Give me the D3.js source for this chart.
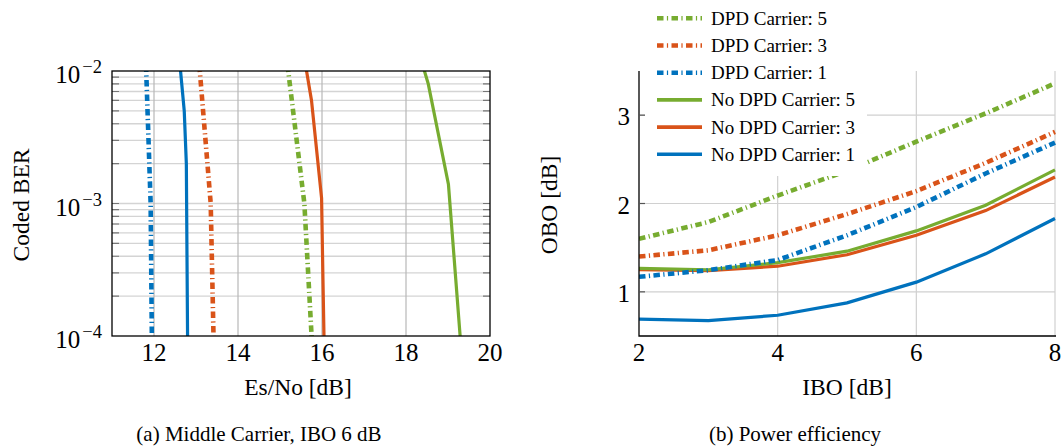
<!DOCTYPE html>
<meta charset="utf-8">
<script src="https://d3js.org/d3.v7.min.js"></script>
<body style="margin:0;background:#fff">
<script>
// (a) coded BER against Es/No, each point is [Es/No dB, BER]
var berDpd1   = [[11.81, 1.1e-2], [11.92, 1e-3], [11.95, 9e-5]];
var berDpd3   = [[13.08, 1.1e-2], [13.35, 1e-3], [13.42, 9e-5]];
var berDpd5   = [[15.18, 1.1e-2], [15.58, 1e-3], [15.76, 9e-5]];
var berNoDpd1 = [[12.62, 1.1e-2], [12.72, 5e-3], [12.77, 2e-3], [12.80, 9e-5]];
var berNoDpd3 = [[15.61, 1.1e-2], [15.75, 6e-3], [15.99, 1.1e-3], [16.02, 3e-4], [16.05, 9e-5]];
var berNoDpd5 = [[18.40, 1.1e-2], [18.53, 8e-3], [19.01, 1.4e-3], [19.30, 9e-5]];
var esnoTicks = [12, 14, 16, 18, 20];
var berTicks = [1e-4, 1e-3, 1e-2];

// (b) output back-off against input back-off
var ibo       = [2, 3, 4, 5, 6, 7, 8];
var oboNoDpd1 = [0.69, 0.675, 0.735, 0.875, 1.11, 1.43, 1.83];
var oboNoDpd3 = [1.25, 1.24, 1.29, 1.42, 1.64, 1.92, 2.30];
var oboNoDpd5 = [1.265, 1.25, 1.33, 1.46, 1.69, 1.98, 2.38];
var oboDpd1   = [1.17, 1.245, 1.36, 1.64, 1.96, 2.34, 2.69];
var oboDpd3   = [1.40, 1.47, 1.64, 1.88, 2.14, 2.46, 2.81];
var oboDpd5   = [1.60, 1.79, 2.09, 2.37, 2.70, 3.02, 3.36];
var iboTicks = [2, 4, 6, 8];
var oboTicks = [1, 2, 3];

var legendNames = ["DPD Carrier: 5", "DPD Carrier: 3", "DPD Carrier: 1",
                   "No DPD Carrier: 5", "No DPD Carrier: 3", "No DPD Carrier: 1"];

var blue = "#0072bd", orange = "#d95319", green = "#77ac30";
var dashDot = "6.5,3.4,1.2,3.4";
var font = "Liberation Serif, Times New Roman, serif";

var svg = d3.select("body").append("svg")
    .attr("width", 1063)
    .attr("height", 448)
    .attr("font-family", font);

var defs = svg.append("defs");

// ---------- left panel ----------
var L = {left: 112, right: 490, top: 71, bottom: 336};
var xa = d3.scaleLinear([11, 20], [L.left, L.right]);
var ya = d3.scaleLog([1e-4, 1e-2], [L.bottom, L.top]);

defs.append("clipPath").attr("id", "clipA")
  .append("rect").attr("x", L.left).attr("y", L.top)
  .attr("width", L.right - L.left).attr("height", L.bottom - L.top);

var ga = svg.append("g");

// minor + major horizontal grid
var minorY = [];
[1e-4, 1e-3].forEach(d => { for (var k = 2; k <= 9; k++) minorY.push(d * k); });
ga.append("g").selectAll("line").data(minorY.concat([1e-3])).join("line")
    .attr("x1", L.left).attr("x2", L.right)
    .attr("y1", d => ya(d)).attr("y2", d => ya(d))
    .attr("stroke", "#d4d4d4").attr("stroke-width", 1.3);
ga.append("g").selectAll("line").data(esnoTicks.slice(0, -1)).join("line")
    .attr("x1", d => xa(d)).attr("x2", d => xa(d))
    .attr("y1", L.top).attr("y2", L.bottom)
    .attr("stroke", "#b8b8b8").attr("stroke-width", 1.2);

// inner tick marks on left and right
ga.append("g").selectAll("path").data(minorY.concat([1e-3])).join("path")
    .attr("d", d => `M${L.left},${ya(d)}h7M${L.right},${ya(d)}h-7`)
    .attr("stroke", "#777").attr("stroke-width", 1.2);

var lineA = d3.line().x(d => xa(d[0])).y(d => ya(d[1]));
var seriesA = [
  {data: berDpd1, color: blue, dash: true},
  {data: berDpd3, color: orange, dash: true},
  {data: berDpd5, color: green, dash: true},
  {data: berNoDpd1, color: blue, dash: false},
  {data: berNoDpd3, color: orange, dash: false},
  {data: berNoDpd5, color: green, dash: false}
];
ga.append("g").attr("clip-path", "url(#clipA)")
  .selectAll("path").data(seriesA).join("path")
    .attr("d", d => lineA(d.data))
    .attr("fill", "none")
    .attr("stroke", d => d.color)
    .attr("stroke-width", d => d.dash ? 4.6 : 3.2)
    .attr("stroke-dasharray", d => d.dash ? dashDot : null);

ga.append("rect")
    .attr("x", L.left).attr("y", L.top)
    .attr("width", L.right - L.left).attr("height", L.bottom - L.top)
    .attr("fill", "none").attr("stroke", "#000").attr("stroke-width", 1.3);

ga.append("g").selectAll("text").data(esnoTicks).join("text")
    .attr("x", d => xa(d)).attr("y", 361)
    .attr("text-anchor", "middle").attr("font-size", 25)
    .text(d => d);

var yLab = ga.append("g").selectAll("text").data(berTicks).join("text")
    .attr("x", 102).attr("y", d => ya(d) + 12)
    .attr("text-anchor", "end").attr("font-size", 25);
yLab.append("tspan").text("10");
yLab.append("tspan").attr("dx", 2).attr("dy", -10).attr("font-size", 18.5)
    .text(d => "\u2212" + Math.round(-Math.log10(d)));

ga.append("text")
    .attr("x", 298).attr("y", 395)
    .attr("text-anchor", "middle").attr("font-size", 23.5)
    .text("Es/No [dB]");
ga.append("text")
    .attr("transform", "translate(29,205) rotate(-90)")
    .attr("text-anchor", "middle").attr("font-size", 23.5)
    .text("Coded BER");
ga.append("text")
    .attr("x", 259).attr("y", 441)
    .attr("text-anchor", "middle").attr("font-size", 21)
    .text("(a) Middle Carrier, IBO 6 dB");

// ---------- right panel ----------
var R = {left: 639, right: 1055, top: 71, bottom: 336};
var xb = d3.scaleLinear([2, 8], [R.left, R.right]);
var yb = d3.scaleLinear([0.5, 3.5], [R.bottom, R.top]);

defs.append("clipPath").attr("id", "clipB")
  .append("rect").attr("x", R.left).attr("y", R.top - 10)
  .attr("width", R.right - R.left + 4).attr("height", R.bottom - R.top + 10);

var gb = svg.append("g");

gb.append("g").selectAll("line").data(iboTicks.slice(1)).join("line")
    .attr("x1", d => xb(d)).attr("x2", d => xb(d))
    .attr("y1", R.top).attr("y2", R.bottom)
    .attr("stroke", "#d0d0d0").attr("stroke-width", 1.2);
gb.append("g").selectAll("line").data(oboTicks).join("line")
    .attr("x1", R.left).attr("x2", R.right)
    .attr("y1", d => yb(d)).attr("y2", d => yb(d))
    .attr("stroke", "#d0d0d0").attr("stroke-width", 1.2);

var lineB = d3.line().x((d, i) => xb(ibo[i])).y(d => yb(d));
var seriesB = [
  {data: oboNoDpd1, color: blue, dash: false},
  {data: oboNoDpd3, color: orange, dash: false},
  {data: oboNoDpd5, color: green, dash: false},
  {data: oboDpd1, color: blue, dash: true},
  {data: oboDpd3, color: orange, dash: true},
  {data: oboDpd5, color: green, dash: true}
];
gb.append("g").attr("clip-path", "url(#clipB)")
  .selectAll("path").data(seriesB).join("path")
    .attr("d", d => lineB(d.data))
    .attr("fill", "none")
    .attr("stroke", d => d.color)
    .attr("stroke-width", d => d.dash ? 4.6 : 3.2)
    .attr("stroke-dasharray", d => d.dash ? dashDot : null);

// legend, white box over the plot
var legendItems = [
  {color: green, dash: true}, {color: orange, dash: true}, {color: blue, dash: true},
  {color: green, dash: false}, {color: orange, dash: false}, {color: blue, dash: false}
];
gb.append("rect")
    .attr("x", 645).attr("y", 0).attr("width", 222).attr("height", 176)
    .attr("fill", "#fff");
var leg = gb.append("g").selectAll("g").data(legendItems).join("g")
    .attr("transform", (d, i) => `translate(657,${18.3 + i * 27.2})`);
leg.append("line")
    .attr("x1", 0).attr("x2", 45)
    .attr("stroke", d => d.color)
    .attr("stroke-width", d => d.dash ? 4.6 : 3.6)
    .attr("stroke-dasharray", d => d.dash ? dashDot : null);
leg.append("text")
    .attr("x", 54).attr("y", 6.5)
    .attr("font-size", 19)
    .text((d, i) => legendNames[i]);

// axis lines
gb.append("path")
    .attr("d", `M${R.left},${R.top}V${R.bottom}H${R.right + 1}`)
    .attr("fill", "none").attr("stroke", "#000").attr("stroke-width", 1.3);
gb.append("g").selectAll("path").data(oboTicks).join("path")
    .attr("d", d => `M${R.left},${yb(d)}h6`)
    .attr("stroke", "#555").attr("stroke-width", 1.2);

gb.append("g").selectAll("text").data(iboTicks).join("text")
    .attr("x", d => xb(d)).attr("y", 361)
    .attr("text-anchor", "middle").attr("font-size", 25)
    .text(d => d);
gb.append("g").selectAll("text").data(oboTicks).join("text")
    .attr("x", 630).attr("y", d => yb(d) + 10)
    .attr("text-anchor", "end").attr("font-size", 25)
    .text(d => d);

gb.append("text")
    .attr("x", 847).attr("y", 395)
    .attr("text-anchor", "middle").attr("font-size", 23.5)
    .text("IBO [dB]");
gb.append("text")
    .attr("transform", "translate(557,205) rotate(-90)")
    .attr("text-anchor", "middle").attr("font-size", 23.5)
    .text("OBO [dB]");
gb.append("text")
    .attr("x", 795).attr("y", 441)
    .attr("text-anchor", "middle").attr("font-size", 21)
    .text("(b) Power efficiency");
</script>
